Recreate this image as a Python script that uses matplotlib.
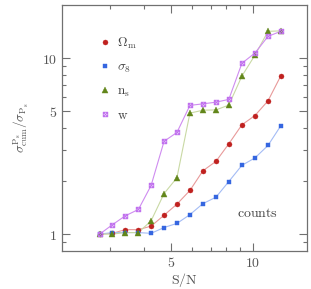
"""
Cociente de errores acumulados frente a S/N, en escala log-log.
"""

import matplotlib

matplotlib.use("Agg")

import matplotlib.pyplot as plt
from matplotlib.lines import Line2D
from matplotlib.path import Path
from matplotlib.ticker import FixedLocator, FixedFormatter, NullFormatter

plt.rcParams["mathtext.fontset"] = "cm"
plt.rcParams["font.family"] = "serif"
plt.rcParams["font.serif"] = ["DejaVu Serif"]

sn = [2.75, 3.06, 3.41, 3.81, 4.24, 4.73, 5.27, 5.88, 6.56, 7.32, 8.16, 9.11, 10.17, 11.35, 12.63]

omega_m = [1.0, 1.01, 1.06, 1.06, 1.11, 1.28, 1.48, 1.77, 2.29, 2.59, 3.26, 4.18, 4.72, 5.72, 7.91]
sigma_8 = [1.0, 1.02, 1.02, 1.02, 1.01, 1.09, 1.15, 1.29, 1.49, 1.62, 1.99, 2.46, 2.71, 3.19, 4.12]
n_s = [1.0, 1.0, 1.02, 1.02, 1.19, 1.70, 2.09, 4.87, 5.06, 5.08, 5.41, 7.91, 10.4, 14.2, 14.3]
w = [1.0, 1.13, 1.27, 1.38, 1.89, 3.37, 3.78, 5.39, 5.50, 5.62, 5.83, 9.35, 10.7, 13.3, 14.2]

etiquetas = [r"$\Omega_{\rm m}$", r"$\sigma_8$", r"$\rm n_s$", r"$\rm w$"]

# caja con diagonales para w
caja_x = Path(
    [(-1, -1), (1, -1), (1, 1), (-1, 1), (-1, -1), (-1, -1), (1, 1), (-1, 1), (1, -1)],
    [Path.MOVETO, Path.LINETO, Path.LINETO, Path.LINETO, Path.CLOSEPOLY,
     Path.MOVETO, Path.LINETO, Path.MOVETO, Path.LINETO],
)

series = [
    (omega_m, "o", "#c0211f", "#e89a9a", 3.6),
    (sigma_8, "s", "#3566e0", "#a4bcf5", 2.6),
    (n_s, "^", "#62861a", "#c9d9a4", 3.8),
    (w, caja_x, "#c070ee", "#cf8cf0", 3.2),
]

fig = plt.figure(figsize=(3.11, 2.89), dpi=100)
ax = fig.add_axes([0.199, 0.131, 0.789, 0.851])

gris = "#707070"
handles = []
for valores, marcador, color, color_linea, ms in series:
    ax.plot(sn, valores, color=color_linea, lw=0.8, zorder=2)
    if marcador is caja_x:
        ax.plot(sn, valores, ls="none", marker=marcador, ms=ms, mfc="none",
                mec=color, mew=0.7, zorder=3)
        h = Line2D([], [], ls="none", marker=marcador, ms=ms, mfc="none", mec=color, mew=0.7)
    else:
        ax.plot(sn, valores, ls="none", marker=marcador, ms=ms, mfc=color,
                mec=color, mew=0.3, zorder=3)
        h = Line2D([], [], ls="none", marker=marcador, ms=ms, mfc=color, mec=color, mew=0.3)
    handles.append(h)

ax.set_xscale("log")
ax.set_yscale("log")
ax.set_xlim(2.0, 15.8)
ax.set_ylim(0.8, 20)

ax.xaxis.set_major_locator(FixedLocator([5, 10]))
ax.xaxis.set_major_formatter(FixedFormatter([r"$5$", r"$10$"]))
ax.xaxis.set_minor_locator(FixedLocator([3, 4, 6, 7, 8, 9]))
ax.xaxis.set_minor_formatter(NullFormatter())
ax.yaxis.set_major_locator(FixedLocator([1, 5, 10]))
ax.yaxis.set_major_formatter(FixedFormatter([r"$1$", r"$5$", r"$10$"]))
ax.yaxis.set_minor_locator(FixedLocator([0.9, 2, 3, 4, 6, 7, 8, 9]))
ax.yaxis.set_minor_formatter(NullFormatter())

ax.tick_params(which="both", direction="in", top=True, right=True, color=gris,
               labelcolor="#555555", labelsize=10, width=0.8)
ax.tick_params(which="major", length=6)
ax.tick_params(which="minor", length=3)
for spine in ax.spines.values():
    spine.set_color(gris)
    spine.set_linewidth(0.9)

ax.set_xlabel(r"$\rm S/N$", fontsize=10, color="#555555", labelpad=1)
ax.set_ylabel(r"$\sigma^{\rm P_s}_{\rm cum}/\sigma_{\rm P_s}$", fontsize=9.5,
              color="#555555", labelpad=8)

ax.legend(handles, etiquetas, loc="upper left", bbox_to_anchor=(0.1, 0.925),
          frameon=False, fontsize=9.5, labelspacing=0.74, handlelength=1.0,
          handletextpad=0.45, labelcolor="#444444")

ax.text(0.797, 0.155, r"$\rm counts$", transform=ax.transAxes, fontsize=10,
        color="#444444", ha="center", va="center")

fig.savefig("out.png", dpi=100)
plt.close(fig)
